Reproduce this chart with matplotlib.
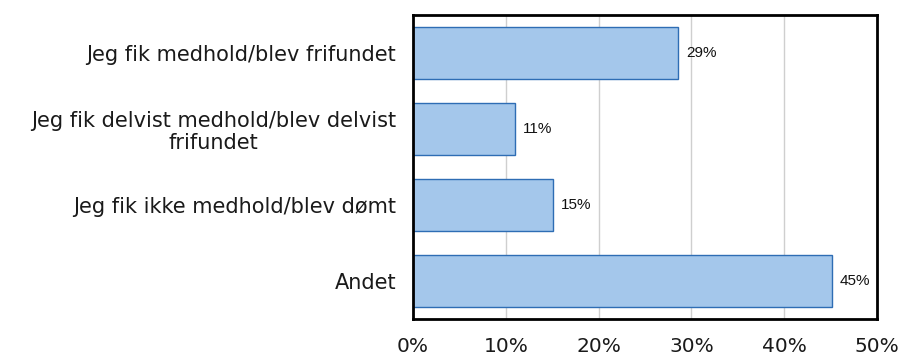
import matplotlib.pyplot as plt
import numpy as np

categories = [
    "Jeg fik medhold/blev frifundet",
    "Jeg fik delvist medhold/blev delvist\nfrifundet",
    "Jeg fik ikke medhold/blev dømt",
    "Andet",
]
shares = [28.6, 11.0, 15.1, 45.2]  # percent of respondents
x_ticks = [0, 10, 20, 30, 40, 50]

fill = "#A4C7EB"
edge = "#2E6DB4"

fig = plt.figure(figsize=(9.02, 3.56), dpi=100)
ax = fig.add_axes([413 / 902, 37 / 356, 464 / 902, 304 / 356])

y = np.arange(len(categories))
ax.barh(y, shares, height=0.68, color=fill, edgecolor=edge, linewidth=1.0, zorder=2)

for yi, v in zip(y, shares):
    ax.text(v + 0.8, yi, f"{v:.0f}%", va="center", ha="left",
            fontsize=11, family="Liberation Sans", color="#111111")

ax.set_xlim(0, 50)
ax.set_ylim(len(categories) - 0.5, -0.5)
ax.set_xticks(x_ticks)
ax.set_xticklabels([f"{t}%" for t in x_ticks], fontsize=14.5,
                   family="DejaVu Sans", color="#1a1a1a")
ax.set_yticks(y)
ax.set_yticklabels(categories, fontsize=15, family="DejaVu Sans", color="#1a1a1a",
                   ha="right", multialignment="center", linespacing=1.15)
ax.tick_params(axis="x", length=0, pad=13)
ax.tick_params(axis="y", length=0, pad=12)

ax.grid(axis="x", color="#CFCFCF", linewidth=1.0, zorder=0)
ax.set_axisbelow(True)
for side in ax.spines.values():
    side.set_linewidth(2.0)
    side.set_color("black")

fig.savefig("out.png", dpi=100)
